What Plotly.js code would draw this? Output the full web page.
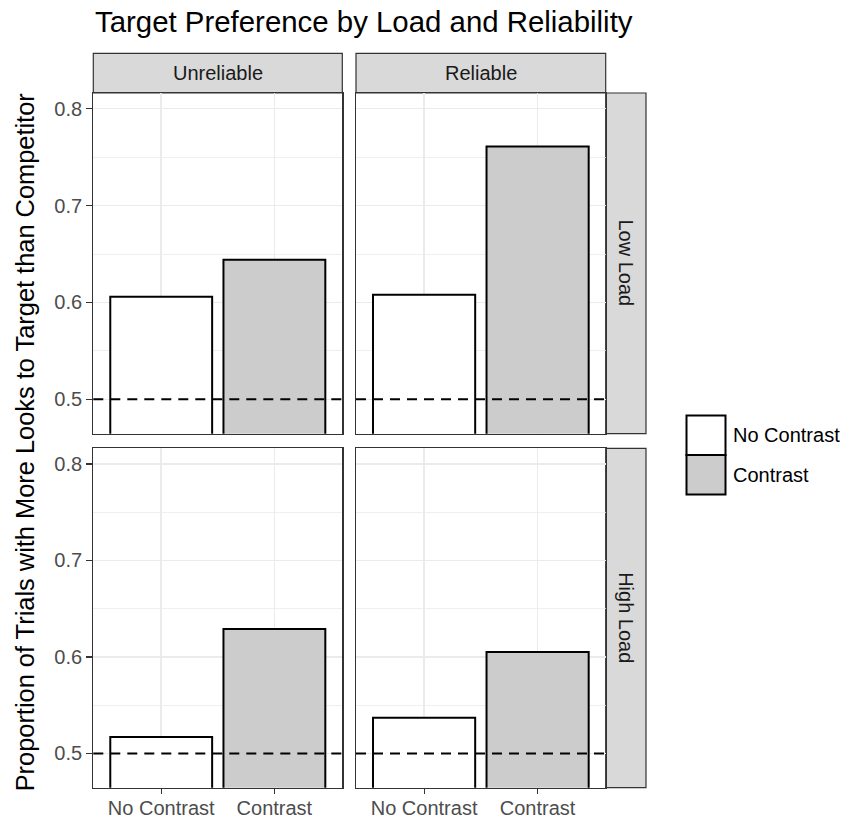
<!DOCTYPE html>
<html>
<head>
<meta charset="utf-8">
<script src="https://cdn.plot.ly/plotly-3.0.1.min.js"></script>
<style>
  html, body { margin: 0; padding: 0; background: #ffffff; }
  #chart { width: 843px; height: 820px; }
</style>
</head>
<body>
<div id="chart"></div>
<script>
// Condition levels and facet labels
const conditions = ['No Contrast', 'Contrast'];
const reliabilityLevels = ['Unreliable', 'Reliable'];
const loadLevels = ['Low Load', 'High Load'];

// Proportion of trials with more looks to target than competitor
const lowLoadUnreliable = [0.606, 0.644];
const lowLoadReliable = [0.608, 0.761];
const highLoadUnreliable = [0.517, 0.629];
const highLoadReliable = [0.537, 0.605];

// Chance reference level
const chanceLevel = 0.5;

// Y tick values shown on the left panels
const yTickValues = [0.5, 0.6, 0.7, 0.8];
const yTickLabels = ['0.5', '0.6', '0.7', '0.8'];

// Fills per condition
const barFills = ['#ffffff', '#cccccc'];

const W = 843, H = 820;
const px = v => v / W;          // horizontal pixel -> paper fraction
const py = v => 1 - v / H;      // vertical pixel (from top) -> paper fraction

const FONT = 'Liberation Sans, Arial, Helvetica, sans-serif';
const DARK = '#333333';

// Panel geometry (pixels)
const colX = [[93.3, 342.3], [356, 605.7]];
const rowY = [[93, 433.7], [448.3, 787.7]];
const stripTop = [53.3, 93];
const stripRight = [605.7, 646];

const panelData = [
  [lowLoadUnreliable, lowLoadReliable],
  [highLoadUnreliable, highLoadReliable]
];

const traces = [];
const layout = {
  width: W, height: H,
  margin: { l: 0, r: 0, t: 0, b: 0 },
  paper_bgcolor: '#ffffff',
  plot_bgcolor: '#ffffff',
  showlegend: false,
  hovermode: false,
  font: { family: FONT, color: '#000000' },
  title: {
    text: 'Target Preference by Load and Reliability',
    font: { family: FONT, size: 29.4, color: '#000000' },
    xref: 'container', yref: 'container',
    x: px(95), xanchor: 'left',
    y: py(22), yanchor: 'middle'
  },
  shapes: [],
  annotations: []
};

let k = 0;
for (let r = 0; r < 2; r++) {
  for (let c = 0; c < 2; c++) {
    k++;
    const sfx = k === 1 ? '' : String(k);
    traces.push({
      type: 'bar',
      x: conditions,
      y: panelData[r][c],
      xaxis: 'x' + sfx,
      yaxis: 'y' + sfx,
      width: 0.9,
      marker: { color: barFills, line: { color: '#000000', width: 2 } }
    });

    const isBottom = r === 1;
    const isLeft = c === 0;

    layout['xaxis' + sfx] = {
      domain: [px(colX[c][0]), px(colX[c][1])],
      anchor: 'y' + sfx,
      type: 'category',
      categoryorder: 'array',
      categoryarray: conditions,
      range: [-0.6, 1.6],
      showgrid: true,
      gridcolor: '#ebebeb',
      gridwidth: 1.5,
      zeroline: false,
      showline: true,
      mirror: true,
      linecolor: DARK,
      linewidth: 1.2,
      ticks: isBottom ? 'outside' : '',
      ticklen: 5,
      tickwidth: 1.2,
      tickcolor: DARK,
      showticklabels: isBottom,
      ticklabelstandoff: -3,
      tickfont: { family: FONT, size: 20, color: '#4d4d4d' },
      fixedrange: true
    };
    layout['yaxis' + sfx] = {
      domain: [py(rowY[r][1]), py(rowY[r][0])],
      anchor: 'x' + sfx,
      range: [0.4645, 0.8162],
      tickmode: 'array',
      tickvals: yTickValues,
      ticktext: yTickLabels,
      showgrid: true,
      gridcolor: '#ebebeb',
      gridwidth: 1.5,
      minor: {
        tickmode: 'array',
        tickvals: [0.55, 0.65, 0.75],
        showgrid: true,
        gridcolor: '#ebebeb',
        gridwidth: 0.8,
        ticks: ''
      },
      zeroline: false,
      showline: true,
      mirror: true,
      linecolor: DARK,
      linewidth: 1.2,
      ticks: isLeft ? 'outside' : '',
      ticklen: 6,
      tickwidth: 1.2,
      tickcolor: DARK,
      showticklabels: isLeft,
      tickfont: { family: FONT, size: 20, color: '#4d4d4d' },
      fixedrange: true
    };

    // dashed chance line across the panel
    layout.shapes.push({
      type: 'line',
      xref: 'x' + sfx + ' domain', yref: 'y' + sfx,
      x0: 0, x1: 1, y0: chanceLevel, y1: chanceLevel,
      line: { color: '#000000', width: 2, dash: '10px,7px' }
    });
  }
}

// Column strips (top)
for (let c = 0; c < 2; c++) {
  layout.shapes.push({
    type: 'rect', xref: 'paper', yref: 'paper',
    x0: px(colX[c][0]), x1: px(colX[c][1]),
    y0: py(stripTop[1]), y1: py(stripTop[0]),
    fillcolor: '#d9d9d9', line: { color: DARK, width: 1.2 }, layer: 'below'
  });
  layout.annotations.push({
    text: reliabilityLevels[c], showarrow: false,
    xref: 'paper', yref: 'paper',
    x: px((colX[c][0] + colX[c][1]) / 2), y: py((stripTop[0] + stripTop[1]) / 2),
    xanchor: 'center', yanchor: 'middle',
    font: { family: FONT, size: 20, color: '#1a1a1a' }
  });
}

// Row strips (right)
for (let r = 0; r < 2; r++) {
  layout.shapes.push({
    type: 'rect', xref: 'paper', yref: 'paper',
    x0: px(stripRight[0]), x1: px(stripRight[1]),
    y0: py(rowY[r][1]), y1: py(rowY[r][0]),
    fillcolor: '#d9d9d9', line: { color: DARK, width: 1.2 }, layer: 'below'
  });
  layout.annotations.push({
    text: loadLevels[r], showarrow: false, textangle: 90,
    xref: 'paper', yref: 'paper',
    x: px((stripRight[0] + stripRight[1]) / 2), y: py((rowY[r][0] + rowY[r][1]) / 2),
    xanchor: 'center', yanchor: 'middle',
    font: { family: FONT, size: 20, color: '#1a1a1a' }
  });
}

// Shared y-axis title
layout.annotations.push({
  text: 'Proportion of Trials with More Looks to Target than Competitor',
  showarrow: false, textangle: -90,
  xref: 'paper', yref: 'paper',
  x: px(25), y: py((rowY[0][0] + rowY[1][1]) / 2 + 2),
  xanchor: 'center', yanchor: 'middle',
  font: { family: FONT, size: 25.4, color: '#000000' }
});

// Legend keys
const keyX = [686.5, 725.5];
const keyY = [[415.5, 455], [455, 494.5]];
for (let i = 0; i < conditions.length; i++) {
  layout.shapes.push({
    type: 'rect', xref: 'paper', yref: 'paper',
    x0: px(keyX[0]), x1: px(keyX[1]),
    y0: py(keyY[i][1]), y1: py(keyY[i][0]),
    fillcolor: barFills[i], line: { color: '#000000', width: 2 }
  });
  layout.annotations.push({
    text: conditions[i], showarrow: false,
    xref: 'paper', yref: 'paper',
    x: px(731), y: py((keyY[i][0] + keyY[i][1]) / 2),
    xanchor: 'left', yanchor: 'middle',
    font: { family: FONT, size: 20, color: '#000000' }
  });
}

Plotly.newPlot('chart', traces, layout, { displayModeBar: false, staticPlot: true });
</script>
</body>
</html>
